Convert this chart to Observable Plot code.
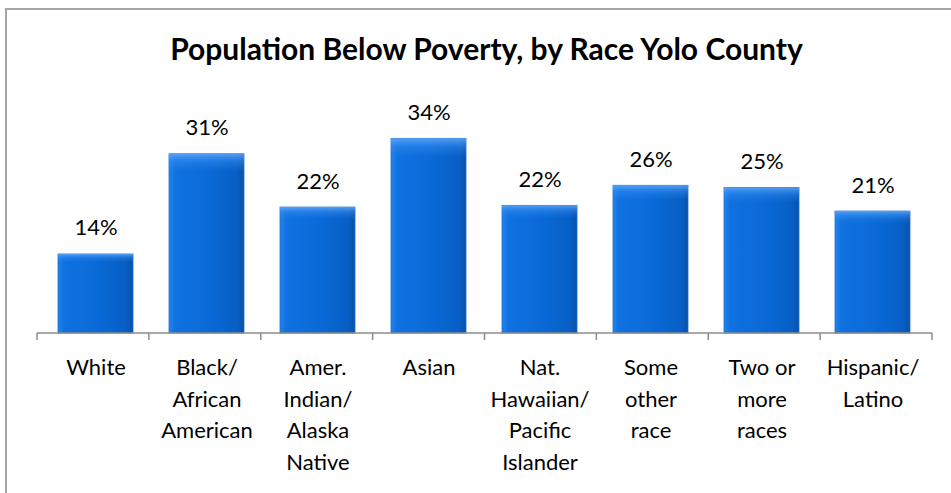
<!DOCTYPE html>
<html>
<head>
<meta charset="utf-8">
<script src="https://cdn.jsdelivr.net/npm/d3@7"></script>
<script src="https://cdn.jsdelivr.net/npm/@observablehq/plot@0.6"></script>
<style>
  html, body { margin: 0; padding: 0; background: #fff; }
  #wrap { position: relative; width: 951px; height: 493px; overflow: hidden; background: #fff; font-family: Lato, "Open Sans", sans-serif; }
  #frame { position: absolute; left: 5px; top: 8px; width: 960px; height: 500px; border-left: 2px solid #a6a6a6; border-top: 2px solid #a6a6a6; box-sizing: border-box; }
  #title { position: absolute; left: 0; top: 0; width: 951px; height: 80px; padding-left: 22px; box-sizing: border-box; text-align: center; font-weight: 700; font-size: 30px; line-height: 96px; color: #000; }
  #chart { position: absolute; left: 0; top: 80px; }
</style>
</head>
<body>
<div id="wrap">
  <div id="frame"></div>
  <div id="title">Population Below Poverty, by Race Yolo County</div>
  <div id="chart"></div>
</div>
<script>
const categories = ["White", "Black/African American", "Amer. Indian/Alaska Native", "Asian", "Nat. Hawaiian/Pacific Islander", "Some other race", "Two or more races", "Hispanic/Latino"];
const tickLabels = ["White", "Black/\nAfrican\nAmerican", "Amer.\nIndian/\nAlaska\nNative", "Asian", "Nat.\nHawaiian/\nPacific\nIslander", "Some\nother\nrace", "Two or\nmore\nraces", "Hispanic/\nLatino"];
const values = [13.8, 31.3, 22.0, 34.0, 22.3, 25.8, 25.4, 21.3];
const valueLabels = ["14%", "31%", "22%", "34%", "22%", "26%", "25%", "21%"];

const data = categories.map((c, i) => ({category: c, value: values[i], label: valueLabels[i]}));
const labelOf = new Map(categories.map((c, i) => [c, tickLabels[i]]));

const W = 951, H = 413;
const boundaryTicks = (index, scales, values, dimensions) => {
  const g = d3.create("svg:g");
  const left = dimensions.marginLeft, right = dimensions.width - dimensions.marginRight;
  const n = categories.length, step = (right - left) / n;
  const y0 = scales.y(0);
  for (let k = 0; k <= n; k++) {
    const x = left + k * step;
    g.append("line").attr("x1", x).attr("x2", x).attr("y1", y0).attr("y2", y0 + 7)
      .attr("stroke", "#8c8c8c").attr("stroke-width", 1.5);
  }
  g.append("line").attr("x1", left).attr("x2", right).attr("y1", y0).attr("y2", y0)
    .attr("stroke", "#8c8c8c").attr("stroke-width", 1.5);
  return g.node();
};

const chart = Plot.plot({
  width: W,
  height: H,
  marginLeft: 37,
  marginRight: 19,
  marginTop: 24,
  marginBottom: 160,
  style: {fontFamily: "Lato, 'Open Sans', sans-serif", background: "transparent", color: "#000"},
  x: {domain: categories, paddingInner: 0.32, paddingOuter: 0.16, label: null},
  y: {domain: [0, 40], axis: null},
  marks: [
    Plot.barY(data, {x: "category", y: "value", fill: "url(#barGrad)", stroke: "#1b6fcf", strokeWidth: 0.8, style: "filter:url(#barShadow)"}),
    Plot.barY(data, {x: "category", y: "value", fill: "url(#barBevel)"}),
    boundaryTicks,
    Plot.text(data, {x: "category", y: "value", text: "label", fontSize: 22, dy: -19, lineAnchor: "bottom", fill: "#000"}),
    Plot.axisX({tickSize: 0, tickPadding: 19, fontSize: 22, lineHeight: 1.44, tickFormat: d => labelOf.get(d), fill: "#000"})
  ]
});

const defs = d3.select(chart).insert("defs", ":first-child");
const g1 = defs.append("linearGradient").attr("id", "barGrad").attr("x1", 0).attr("x2", 1).attr("y1", 0).attr("y2", 0);
[["0%", "#2284ee"], ["8%", "#0f72e0"], ["50%", "#0a6ad8"], ["90%", "#075fc6"], ["100%", "#0a52a8"]]
  .forEach(([o, c]) => g1.append("stop").attr("offset", o).attr("stop-color", c));
const g2 = defs.append("linearGradient").attr("id", "barBevel").attr("x1", 0).attr("x2", 0).attr("y1", 0).attr("y2", 1);
[["0%", "#6fb0ff", 0.75], ["4%", "#3f93f5", 0.45], ["10%", "#2a85ee", 0.0], ["100%", "#000", 0.0]]
  .forEach(([o, c, a]) => g2.append("stop").attr("offset", o).attr("stop-color", c).attr("stop-opacity", a));
const f = defs.append("filter").attr("id", "barShadow").attr("x", "-20%").attr("y", "-10%").attr("width", "140%").attr("height", "130%");
f.append("feDropShadow").attr("dx", 0).attr("dy", 3).attr("stdDeviation", 3).attr("flood-color", "#000").attr("flood-opacity", 0.3);

document.getElementById("chart").appendChild(chart);
</script>
</body>
</html>
